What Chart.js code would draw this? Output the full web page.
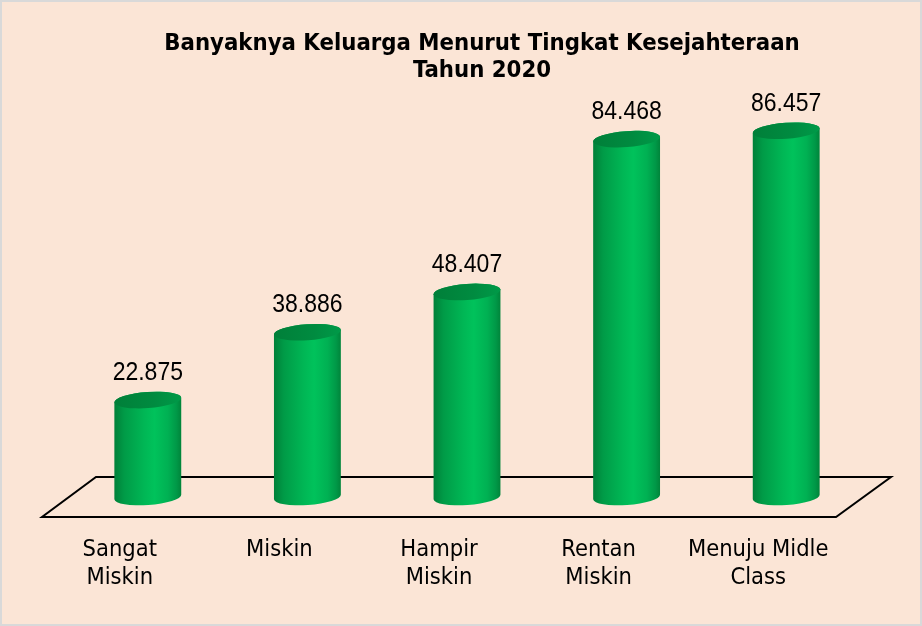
<!DOCTYPE html>
<html>
<head>
<meta charset="utf-8">
<title>Banyaknya Keluarga Menurut Tingkat Kesejahteraan</title>
<script src="https://cdn.jsdelivr.net/npm/chart.js@4.4.1/dist/chart.umd.min.js"></script>
<style>
  html, body { margin: 0; padding: 0; background: #fbe5d6; }
  #wrap { width: 922px; height: 626px; position: relative; }
</style>
</head>
<body>
<div id="wrap"><canvas id="chart"></canvas></div>
<script>
// Chart data
const titleLines = ['Banyaknya Keluarga Menurut Tingkat Kesejahteraan', 'Tahun 2020'];
const categories = [['Sangat', 'Miskin'], ['Miskin'], ['Hampir', 'Miskin'], ['Rentan', 'Miskin'], ['Menuju Midle', 'Class']];
const jumlahKeluarga = [22875, 38886, 48407, 84468, 86457];
const yMin = 0;
const yMax = 95000;

const palette = {
  background: '#fbe5d6',
  frame: '#d9d9d9',
  floorLine: '#000000',
  text: '#000000',
  capDark: '#007f39',
  capLight: '#009a48'
};

// Indonesian style thousands separator: 22875 -> 22.875
function formatValue(value) {
  return String(value).replace(/\B(?=(\d{3})+(?!\d))/g, '.');
}

// Background fill + thin frame round the whole picture
const backgroundPlugin = {
  id: 'background',
  beforeDraw(chart) {
    const { ctx, width, height } = chart;
    ctx.save();
    ctx.fillStyle = palette.background;
    ctx.fillRect(0, 0, width, height);
    ctx.strokeStyle = palette.frame;
    ctx.lineWidth = 2;
    ctx.strokeRect(1, 1, width - 2, height - 2);
    ctx.restore();
  }
};

// The 3D "floor" the cylinders stand on
const floorPlugin = {
  id: 'floor',
  beforeDatasetsDraw(chart) {
    const { ctx, chartArea } = chart;
    const base = chart.scales.y.getPixelForValue(0);
    ctx.save();
    ctx.beginPath();
    ctx.moveTo(chartArea.left + 28, base - 20);
    ctx.lineTo(chartArea.right + 25, base - 20);
    ctx.lineTo(chartArea.right - 30, base + 20);
    ctx.lineTo(chartArea.left - 26, base + 20);
    ctx.closePath();
    ctx.strokeStyle = palette.floorLine;
    ctx.lineWidth = 2;
    ctx.stroke();
    ctx.restore();
  }
};

function drawCylinder(ctx, x, top, bottom, width) {
  const rx = width / 2;
  const ry = 8;
  const tilt = -0.07;

  const body = ctx.createLinearGradient(x - rx, 0, x + rx, 0);
  body.addColorStop(0, '#008039');
  body.addColorStop(0.15, '#009b47');
  body.addColorStop(0.45, '#00b755');
  body.addColorStop(0.6, '#00c25b');
  body.addColorStop(0.8, '#00b153');
  body.addColorStop(0.93, '#009847');
  body.addColorStop(1, '#00843a');

  ctx.beginPath();
  ctx.ellipse(x, bottom, rx, ry, tilt, 0, Math.PI);
  ctx.ellipse(x, top, rx, ry, tilt, Math.PI, Math.PI * 2);
  ctx.closePath();
  ctx.fillStyle = body;
  ctx.fill();

  const cap = ctx.createLinearGradient(x - rx, top, x + rx, top);
  cap.addColorStop(0, palette.capDark);
  cap.addColorStop(0.6, '#008b40');
  cap.addColorStop(1, palette.capLight);
  ctx.beginPath();
  ctx.ellipse(x, top, rx, ry, tilt, 0, Math.PI * 2);
  ctx.fillStyle = cap;
  ctx.fill();
}

// Draws each bar as a cylinder plus its value label
const cylinderPlugin = {
  id: 'cylinders',
  afterDatasetsDraw(chart) {
    const { ctx } = chart;
    const meta = chart.getDatasetMeta(0);
    meta.data.forEach((bar, i) => {
      const { x, y, base, width } = bar.getProps(['x', 'y', 'base', 'width'], true);
      ctx.save();
      drawCylinder(ctx, x, y, base, width);
      // value label, a little taller than the plain font like the original
      ctx.translate(x, y - 27);
      ctx.scale(1, 1.12);
      ctx.fillStyle = palette.text;
      ctx.font = '23px "Liberation Sans", Arial, sans-serif';
      ctx.textAlign = 'center';
      ctx.textBaseline = 'middle';
      ctx.fillText(formatValue(jumlahKeluarga[i]), 0, 0);
      ctx.restore();
    });
  }
};

const chart = new Chart(document.getElementById('chart'), {
  type: 'bar',
  data: {
    labels: categories,
    datasets: [{
      label: 'Jumlah Keluarga',
      data: jumlahKeluarga,
      backgroundColor: 'rgba(0, 0, 0, 0)',
      borderWidth: 0,
      categoryPercentage: 1,
      barPercentage: 0.42
    }]
  },
  options: {
    responsive: true,
    maintainAspectRatio: false,
    animation: false,
    layout: {
      padding: { left: 68, right: 26, top: 0, bottom: 34 }
    },
    scales: {
      x: {
        grid: { display: false, drawTicks: false },
        border: { display: false },
        ticks: {
          color: palette.text,
          padding: 39,
          labelOffset: -28, // labels sit at the front edge of the floor
          maxRotation: 0,
          autoSkip: false,
          font: { family: '"DejaVu Sans Condensed", "DejaVu Sans", sans-serif', size: 23.5, lineHeight: 1.2 }
        },
        afterFit: (scale) => { scale.height = 95; }
      },
      y: {
        position: 'right',
        min: yMin,
        max: yMax,
        grid: { display: false, drawTicks: false },
        border: { display: false },
        ticks: { display: false },
        afterFit: (scale) => { scale.width = 30; }
      }
    },
    plugins: {
      legend: { display: false },
      tooltip: { enabled: false },
      title: {
        display: true,
        text: titleLines,
        color: palette.text,
        font: { family: '"DejaVu Sans Condensed", "DejaVu Sans", sans-serif', size: 23.7, weight: 'bold', lineHeight: 1.15 },
        padding: { top: 30, bottom: 10 }
      }
    }
  },
  plugins: [backgroundPlugin, floorPlugin, cylinderPlugin]
});
</script>
</body>
</html>
